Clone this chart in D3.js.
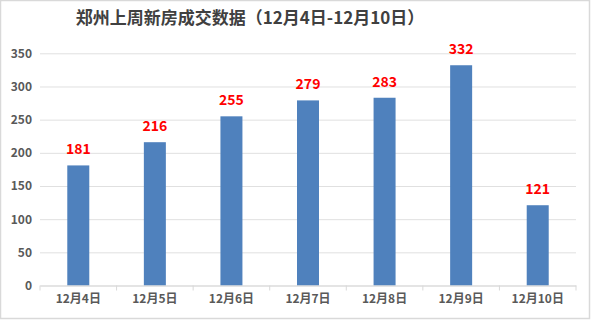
<!DOCTYPE html>
<html>
<head>
<meta charset="utf-8">
<script src="https://cdn.jsdelivr.net/npm/d3@7"></script>
<style>
body { margin: 0; background: #fff; }
text { font-family: "Noto Sans CJK SC", "Open Sans", sans-serif; }
</style>
</head>
<body>
<div id="chart"></div>
<script>
// 数据
const days = ['12月4日', '12月5日', '12月6日', '12月7日', '12月8日', '12月9日', '12月10日'];
const deals = [181, 216, 255, 279, 283, 332, 121];
const yTicks = [0, 50, 100, 150, 200, 250, 300, 350];

const width = 591, height = 320;
const margin = {top: 53, right: 15, bottom: 35, left: 40};

let svg = d3.select('#chart')
  .append('svg')
  .attr('width', width)
  .attr('height', height);

// 外框
svg.append('rect')
  .attr('x', 0.5).attr('y', 0.5)
  .attr('width', width - 2).attr('height', height - 2)
  .attr('fill', '#fff')
  .attr('stroke', '#d9d9d9')
  .attr('stroke-width', 1.5);

const xScale = d3.scaleBand().domain(days).range([margin.left, width - margin.right]);
const yScale = d3.scaleLinear().domain([0, 350]).range([height - margin.bottom + 0.5, margin.top + 0.3]);

// 网格线 + y轴
const yAxis = d3.axisLeft(yScale).tickValues(yTicks).tickSize(0).tickPadding(8);
const gy = svg.append('g')
  .attr('class', 'y-axis')
  .attr('transform', `translate(${margin.left}, 0)`)
  .call(yAxis);
gy.select('.domain').remove();
gy.selectAll('.tick line')
  .attr('x2', width - margin.right - margin.left)
  .attr('stroke', '#e0e0e0');
gy.selectAll('.tick text')
  .attr('fill', '#595959')
  .style('font-size', '12px')
  .style('font-weight', 'bold');

// 柱子
svg.append('g')
  .selectAll('rect')
  .data(deals)
  .enter()
  .append('rect')
  .attr('x', (d, i) => xScale(days[i]) + xScale.bandwidth() / 2 - 11)
  .attr('y', d => yScale(d))
  .attr('width', 22)
  .attr('height', d => yScale(0) - yScale(d))
  .attr('fill', '#4f81bd');

// x轴
const xAxis = d3.axisBottom(xScale).tickSize(0).tickPadding(9);
const gx = svg.append('g')
  .attr('class', 'x-axis')
  .attr('transform', `translate(0, ${yScale(0)})`)
  .call(xAxis);
gx.select('.domain').attr('stroke', '#d9d9d9');
gx.selectAll('.tick text')
  .attr('fill', '#595959')
  .style('font-size', '12px')
  .style('font-weight', 'bold');
// 分隔刻度
gx.selectAll('.sep')
  .data(days.concat(['end']))
  .enter()
  .append('line')
  .attr('x1', (d, i) => margin.left + i * xScale.step())
  .attr('x2', (d, i) => margin.left + i * xScale.step())
  .attr('y1', 0).attr('y2', 5)
  .attr('stroke', '#d9d9d9');

// 数值标签
svg.append('g')
  .selectAll('text')
  .data(deals)
  .enter()
  .append('text')
  .attr('x', (d, i) => xScale(days[i]) + xScale.bandwidth() / 2)
  .attr('y', d => yScale(d) - 11)
  .attr('text-anchor', 'middle')
  .attr('fill', '#ff0000')
  .style('font-size', '14px')
  .style('font-weight', 'bold')
  .text(d => d);

// 标题
svg.append('text')
  .attr('x', 250)
  .attr('y', 24)
  .attr('text-anchor', 'middle')
  .attr('fill', '#404040')
  .style('font-size', '17px')
  .style('font-weight', 'bold')
  .text('郑州上周新房成交数据（12月4日-12月10日）');
</script>
</body>
</html>
